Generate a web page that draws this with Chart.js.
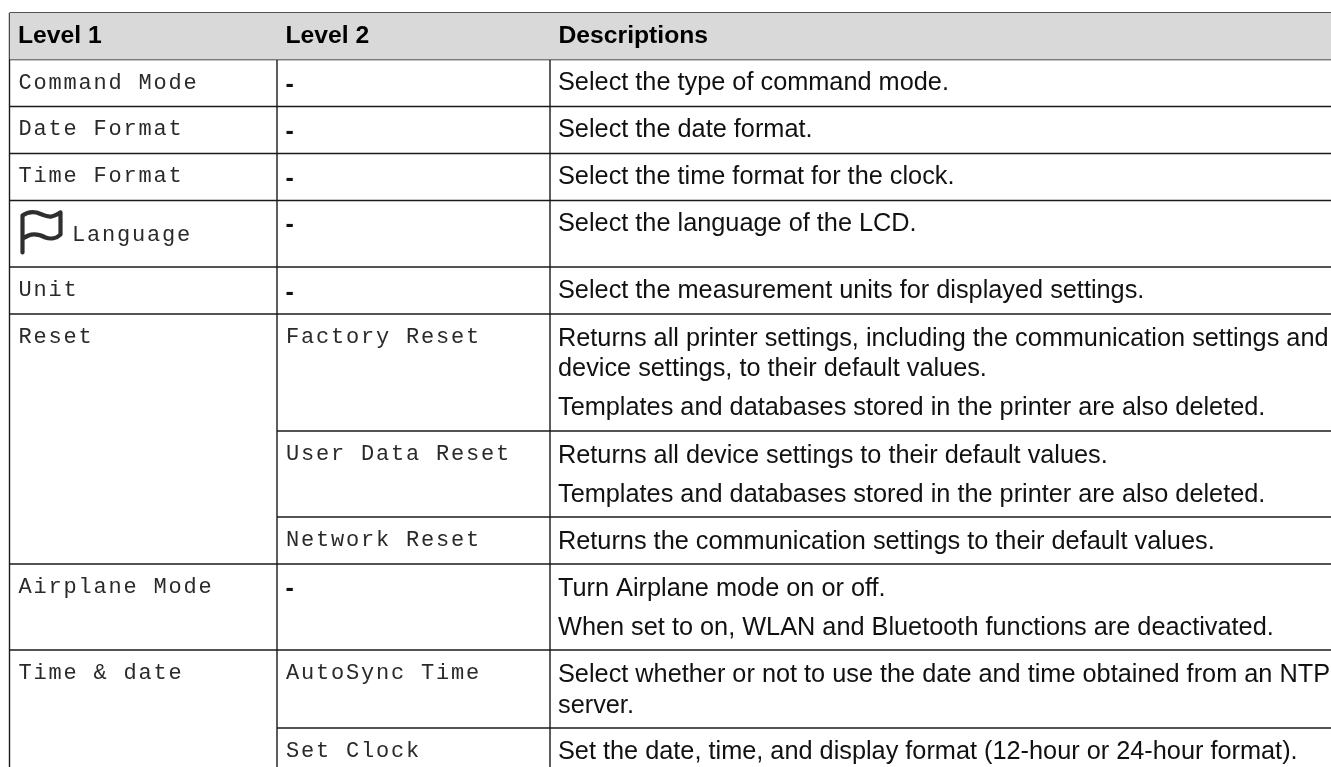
<!DOCTYPE html>
<html><head><meta charset="utf-8">
<style>html,body{margin:0;padding:0;background:#fff;overflow:hidden}canvas{display:block}</style>
<script src="https://cdn.jsdelivr.net/npm/chart.js@4"></script>
</head><body><canvas id="c" width="1331" height="767"></canvas>
<script>
const headers=["Level 1","Level 2","Descriptions"];
const columnEdges=[9.5,277,550];
const rowEdges=[13,59.5,106.5,153.5,200.5,267,314,431,517,564,650,728];
const ruleStartColumn=[0,0,0,0,0,0,0,1,1,0,0,1];
const level1Labels=["Command Mode","Date Format","Time Format","Language","Unit","Reset","Airplane Mode","Time & date"];
const level1Baselines=[88.5,135,182,241,296,343,593,679];
const level2Labels=["Factory Reset","User Data Reset","Network Reset","AutoSync Time","Set Clock"];
const level2Baselines=[343,460,546,679,757];
const dashBaselines=[91.5,139,186,232,299.5,596];
const descLines=["Select the type of command mode.","Select the date format.","Select the time format for the clock.","Select the language of the LCD.","Select the measurement units for displayed settings.","Returns all printer settings, including the communication settings and","device settings, to their default values.","Templates and databases stored in the printer are also deleted.","Returns all device settings to their default values.","Templates and databases stored in the printer are also deleted.","Returns the communication settings to their default values.","Turn Airplane mode on or off.","When set to on, WLAN and Bluetooth functions are deactivated.","Select whether or not to use the date and time obtained from an NTP","server.","Set the date, time, and display format (12-hour or 24-hour format)."];
const descBaselines=[90,137,184,231,298,346,376,415,463,502,549,596,635,682,713,759];
const W=1331,H=767,INK="#1a1a1a";
const datasets=[{data:[{x:columnEdges[0],y:rowEdges[0]},{x:W,y:rowEdges[0]}],borderWidth:0,pointRadius:0,fill:{value:rowEdges[1]},backgroundColor:"#d9d9d9"}];
rowEdges.forEach((y,i)=>datasets.push({data:[{x:columnEdges[ruleStartColumn[i]],y},{x:W,y}],borderColor:INK,borderWidth:1.4,pointRadius:0,fill:false}));
columnEdges.forEach(x=>datasets.push({data:[{x,y:rowEdges[0]},{x,y:H}],borderColor:INK,borderWidth:1.4,pointRadius:0,fill:false}));
const tablePlugin={id:"table",afterDatasetsDraw(chart){
 const c=chart.ctx,X=v=>chart.scales.x.getPixelForValue(v),Y=v=>chart.scales.y.getPixelForValue(v);
 c.save();c.textBaseline="alphabetic";c.textAlign="left";
 c.fillStyle="#000";c.font="bold 24.7px 'Liberation Sans'";
 headers.forEach((h,i)=>c.fillText(h,X(columnEdges[i])+8.5,Y(42.7)));
 c.font="25.3px 'Liberation Sans'";c.fillStyle="#111";
 descLines.forEach((t,i)=>c.fillText(t,X(columnEdges[2])+8,Y(descBaselines[i])));
 c.font="bold 25px 'Liberation Sans'";
 dashBaselines.forEach(y=>c.fillText("-",X(columnEdges[1])+8.5,Y(y)));
 c.font="22px 'Liberation Mono'";c.letterSpacing="1.8px";c.fillStyle="#2a2a2a";
 level1Labels.forEach((t,i)=>c.fillText(t,X(columnEdges[0])+9+(t==="Language"?53.5:0),Y(level1Baselines[i])));
 level2Labels.forEach((t,i)=>c.fillText(t,X(columnEdges[1])+9,Y(level2Baselines[i])));
 c.letterSpacing="0px";
 const ox=X(columnEdges[0]),oy=Y(rowEdges[4]);
 c.strokeStyle="#2f2f2f";c.lineWidth=4.2;c.lineJoin="round";c.lineCap="round";
 c.beginPath();c.moveTo(ox+13,oy+52);c.lineTo(ox+13,oy+15);
 c.bezierCurveTo(ox+17,oy+12,ox+22,oy+11,ox+27,oy+12);
 c.bezierCurveTo(ox+33,oy+14,ox+38,oy+17,ox+42,oy+16);
 c.bezierCurveTo(ox+46,oy+15,ox+49,oy+13,ox+51,oy+12);
 c.lineTo(ox+51,oy+34);
 c.bezierCurveTo(ox+47,oy+38,ox+41,oy+39,ox+36,oy+37);
 c.bezierCurveTo(ox+30,oy+34,ox+24,oy+33,ox+19,oy+35);
 c.lineTo(ox+13,oy+38);
 c.stroke();
 c.restore();
}};
new Chart(document.getElementById("c"),{type:"line",data:{datasets},plugins:[tablePlugin],options:{
 responsive:false,animation:false,parsing:false,normalized:true,
 layout:{padding:0},
 plugins:{legend:{display:false},tooltip:{enabled:false},title:{display:false}},
 scales:{x:{type:"linear",min:0,max:W,display:false},y:{type:"linear",min:0,max:H,reverse:true,display:false}}
}});
</script></body></html>
